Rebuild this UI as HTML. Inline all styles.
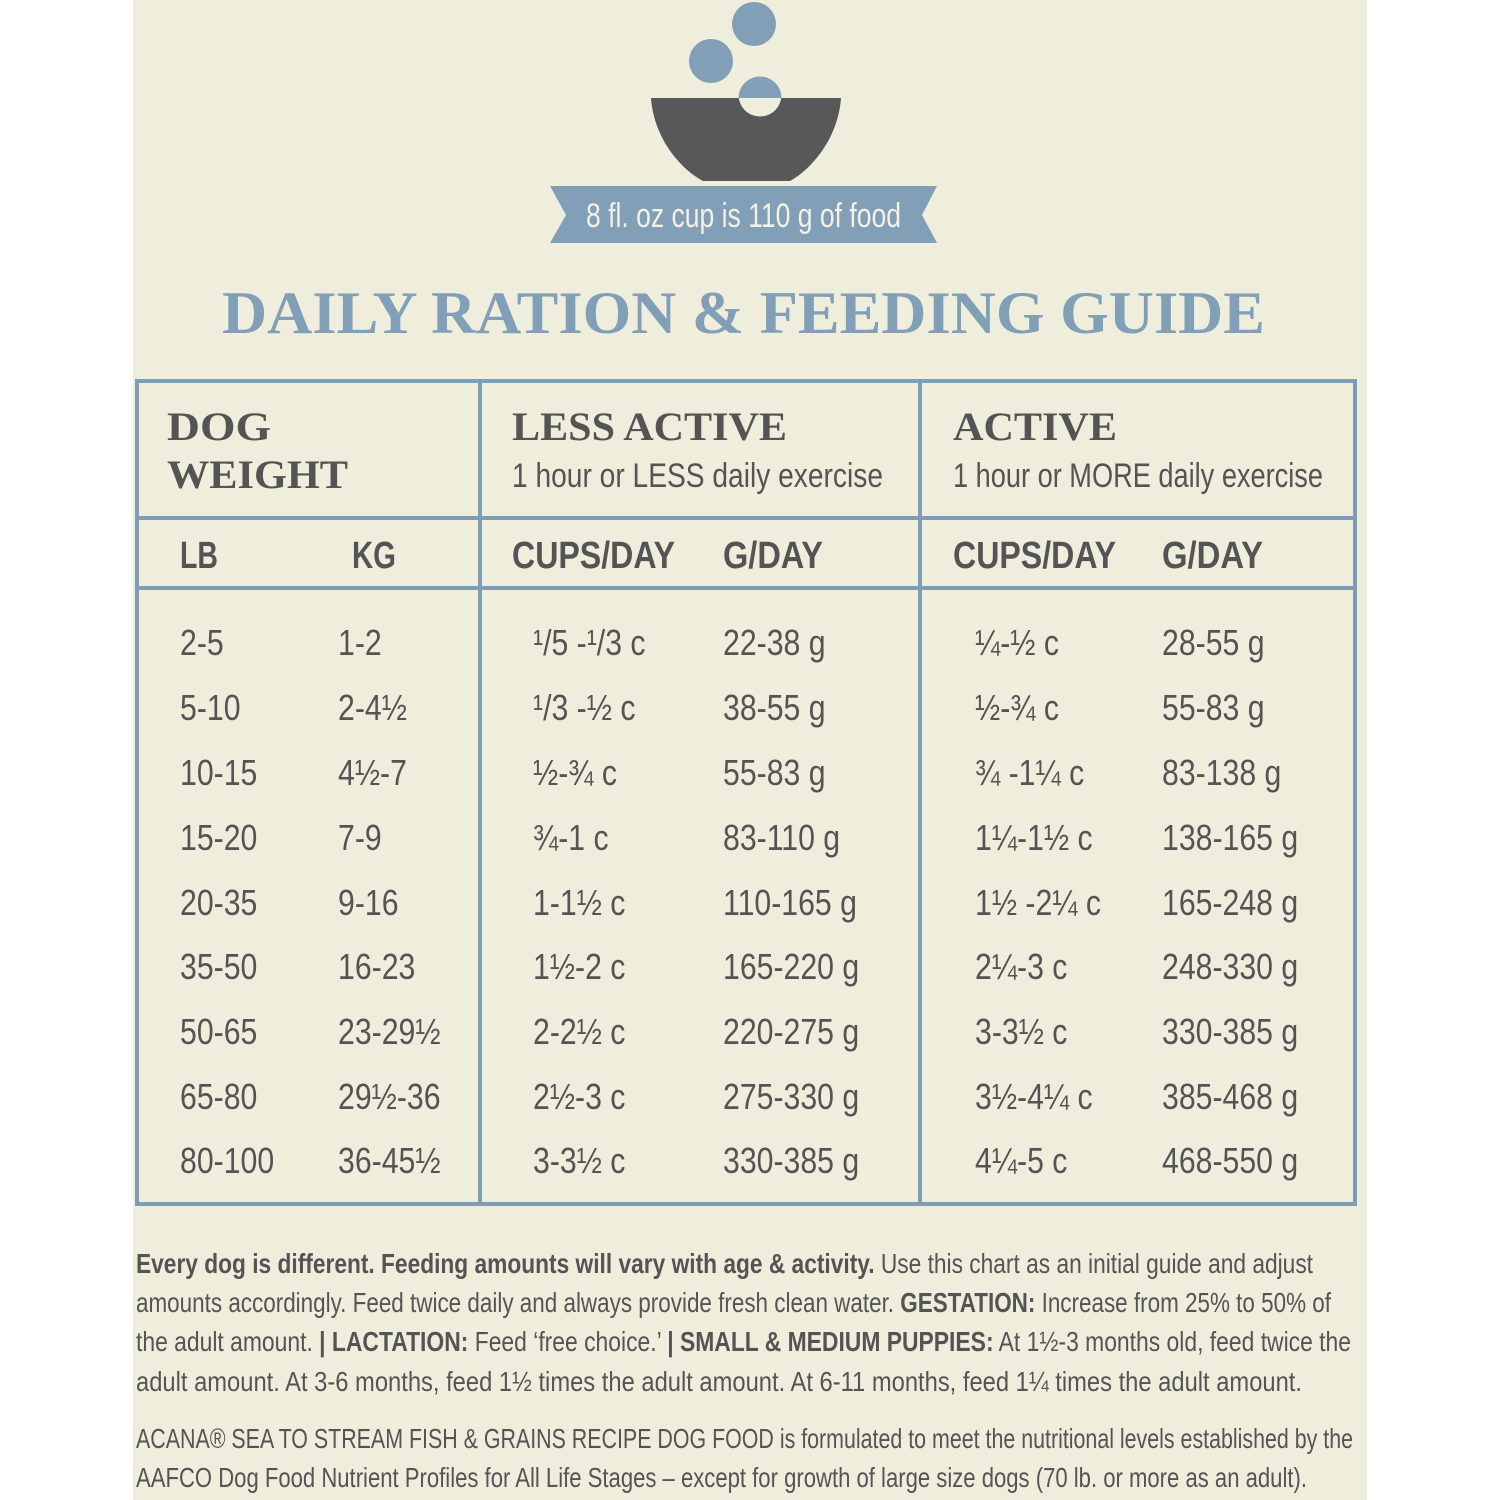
<!DOCTYPE html>
<html><head><style>
html,body{margin:0;padding:0;background:#fff;}
svg{display:block;}
text{font-family:"Liberation Sans",sans-serif;fill:#545454;}
.c{font-size:36px;}
.h{font-size:38px;font-weight:bold;}
.s{font-family:"Liberation Serif",serif;font-weight:bold;}
.f{font-size:28px;}
</style></head><body>
<svg width="1500" height="1500" viewBox="0 0 1500 1500" xmlns="http://www.w3.org/2000/svg">
<rect x="133" y="0" width="1234" height="1500" fill="#efeedd"/>
<!-- icon -->
<circle cx="754" cy="24" r="22" fill="#819fb7"/>
<circle cx="711" cy="61" r="22" fill="#819fb7"/>
<path d="M651 98 L841 98 C838 140 810 170 790 181 L703 181 C682 170 654 140 651 98 Z" fill="#58585a"/>
<circle cx="760" cy="95" r="21.5" fill="#efeedd"/>
<path d="M738.5 98 A21.5 21.5 0 0 1 781.5 98 Z" fill="#819fb7"/>
<!-- ribbon -->
<polygon points="550,186 937,186 922,215 937,243 550,243 566,215" fill="#819fb7"/>
<text x="586" y="227" font-size="34" textLength="315" lengthAdjust="spacingAndGlyphs" style="fill:#f2f1e4">8 fl. oz cup is 110 g of food</text>
<!-- title -->
<text class="s" x="222" y="333" font-size="60" textLength="1043" lengthAdjust="spacingAndGlyphs" style="fill:#819fb7">DAILY RATION &amp; FEEDING GUIDE</text>
<!-- table -->
<g stroke="#7f9db5" stroke-width="4" fill="none">
<rect x="137" y="381" width="1218" height="823"/>
<line x1="480" y1="381" x2="480" y2="1204"/>
<line x1="920" y1="381" x2="920" y2="1204"/>
<line x1="137" y1="518" x2="1355" y2="518"/>
<line x1="137" y1="588" x2="1355" y2="588"/>
</g>
<text class="s" x="167" y="440" font-size="40" textLength="104" lengthAdjust="spacingAndGlyphs">DOG</text>
<text class="s" x="167" y="488" font-size="40" textLength="181" lengthAdjust="spacingAndGlyphs">WEIGHT</text>
<text class="s" x="512" y="440" font-size="40" textLength="275" lengthAdjust="spacingAndGlyphs">LESS ACTIVE</text>
<text class="s" x="953" y="440" font-size="40" textLength="164" lengthAdjust="spacingAndGlyphs">ACTIVE</text>
<text x="512" y="487" font-size="34" textLength="371" lengthAdjust="spacingAndGlyphs">1 hour or LESS daily exercise</text>
<text x="953" y="487" font-size="34" textLength="370" lengthAdjust="spacingAndGlyphs">1 hour or MORE daily exercise</text>
<g class="h">
<text class="h" x="180" y="568" textLength="38" lengthAdjust="spacingAndGlyphs">LB</text>
<text class="h" x="352" y="568" textLength="44" lengthAdjust="spacingAndGlyphs">KG</text>
<text class="h" x="512" y="568" textLength="163" lengthAdjust="spacingAndGlyphs">CUPS/DAY</text>
<text class="h" x="723" y="568" textLength="100" lengthAdjust="spacingAndGlyphs">G/DAY</text>
<text class="h" x="953" y="568" textLength="163" lengthAdjust="spacingAndGlyphs">CUPS/DAY</text>
<text class="h" x="1162" y="568" textLength="101" lengthAdjust="spacingAndGlyphs">G/DAY</text>
</g>
<g class="c">
<text class="c" transform="translate(180,655) scale(0.84,1)">2-5</text><text class="c" transform="translate(338,655) scale(0.84,1)">1-2</text><text class="c" transform="translate(533,655) scale(0.84,1)">¹/5 -¹/3 c</text><text class="c" transform="translate(723,655) scale(0.84,1)">22-38 g</text><text class="c" transform="translate(975,655) scale(0.84,1)">¼-½ c</text><text class="c" transform="translate(1162,655) scale(0.84,1)">28-55 g</text>
<text class="c" transform="translate(180,720) scale(0.84,1)">5-10</text><text class="c" transform="translate(338,720) scale(0.84,1)">2-4½</text><text class="c" transform="translate(533,720) scale(0.84,1)">¹/3 -½ c</text><text class="c" transform="translate(723,720) scale(0.84,1)">38-55 g</text><text class="c" transform="translate(975,720) scale(0.84,1)">½-¾ c</text><text class="c" transform="translate(1162,720) scale(0.84,1)">55-83 g</text>
<text class="c" transform="translate(180,785) scale(0.84,1)">10-15</text><text class="c" transform="translate(338,785) scale(0.84,1)">4½-7</text><text class="c" transform="translate(533,785) scale(0.84,1)">½-¾ c</text><text class="c" transform="translate(723,785) scale(0.84,1)">55-83 g</text><text class="c" transform="translate(975,785) scale(0.84,1)">¾ -1¼ c</text><text class="c" transform="translate(1162,785) scale(0.84,1)">83-138 g</text>
<text class="c" transform="translate(180,850) scale(0.84,1)">15-20</text><text class="c" transform="translate(338,850) scale(0.84,1)">7-9</text><text class="c" transform="translate(533,850) scale(0.84,1)">¾-1 c</text><text class="c" transform="translate(723,850) scale(0.84,1)">83-110 g</text><text class="c" transform="translate(975,850) scale(0.84,1)">1¼-1½ c</text><text class="c" transform="translate(1162,850) scale(0.84,1)">138-165 g</text>
<text class="c" transform="translate(180,915) scale(0.84,1)">20-35</text><text class="c" transform="translate(338,915) scale(0.84,1)">9-16</text><text class="c" transform="translate(533,915) scale(0.84,1)">1-1½ c</text><text class="c" transform="translate(723,915) scale(0.84,1)">110-165 g</text><text class="c" transform="translate(975,915) scale(0.84,1)">1½ -2¼ c</text><text class="c" transform="translate(1162,915) scale(0.84,1)">165-248 g</text>
<text class="c" transform="translate(180,979) scale(0.84,1)">35-50</text><text class="c" transform="translate(338,979) scale(0.84,1)">16-23</text><text class="c" transform="translate(533,979) scale(0.84,1)">1½-2 c</text><text class="c" transform="translate(723,979) scale(0.84,1)">165-220 g</text><text class="c" transform="translate(975,979) scale(0.84,1)">2¼-3 c</text><text class="c" transform="translate(1162,979) scale(0.84,1)">248-330 g</text>
<text class="c" transform="translate(180,1044) scale(0.84,1)">50-65</text><text class="c" transform="translate(338,1044) scale(0.84,1)">23-29½</text><text class="c" transform="translate(533,1044) scale(0.84,1)">2-2½ c</text><text class="c" transform="translate(723,1044) scale(0.84,1)">220-275 g</text><text class="c" transform="translate(975,1044) scale(0.84,1)">3-3½ c</text><text class="c" transform="translate(1162,1044) scale(0.84,1)">330-385 g</text>
<text class="c" transform="translate(180,1109) scale(0.84,1)">65-80</text><text class="c" transform="translate(338,1109) scale(0.84,1)">29½-36</text><text class="c" transform="translate(533,1109) scale(0.84,1)">2½-3 c</text><text class="c" transform="translate(723,1109) scale(0.84,1)">275-330 g</text><text class="c" transform="translate(975,1109) scale(0.84,1)">3½-4¼ c</text><text class="c" transform="translate(1162,1109) scale(0.84,1)">385-468 g</text>
<text class="c" transform="translate(180,1173) scale(0.84,1)">80-100</text><text class="c" transform="translate(338,1173) scale(0.84,1)">36-45½</text><text class="c" transform="translate(533,1173) scale(0.84,1)">3-3½ c</text><text class="c" transform="translate(723,1173) scale(0.84,1)">330-385 g</text><text class="c" transform="translate(975,1173) scale(0.84,1)">4¼-5 c</text><text class="c" transform="translate(1162,1173) scale(0.84,1)">468-550 g</text>
</g>
<!-- footer -->
<text class="f" x="136" y="1273" textLength="1177" lengthAdjust="spacingAndGlyphs"><tspan font-weight="bold">Every dog is different. Feeding amounts will vary with age &amp; activity.</tspan> Use this chart as an initial guide and adjust</text>
<text class="f" x="136" y="1312" textLength="1195" lengthAdjust="spacingAndGlyphs">amounts accordingly. Feed twice daily and always provide fresh clean water. <tspan font-weight="bold">GESTATION:</tspan> Increase from 25% to 50% of</text>
<text class="f" x="136" y="1351" textLength="1215" lengthAdjust="spacingAndGlyphs">the adult amount. <tspan font-weight="bold">| LACTATION:</tspan> Feed ‘free choice.’ <tspan font-weight="bold">| SMALL &amp; MEDIUM PUPPIES:</tspan> At 1½-3 months old, feed twice the</text>
<text class="f" x="136" y="1391" textLength="1166" lengthAdjust="spacingAndGlyphs">adult amount. At 3-6 months, feed 1½ times the adult amount. At 6-11 months, feed 1¼ times the adult amount.</text>
<text class="f" x="136" y="1448" textLength="1217" lengthAdjust="spacingAndGlyphs">ACANA® SEA TO STREAM FISH &amp; GRAINS RECIPE DOG FOOD is formulated to meet the nutritional levels established by the</text>
<text class="f" x="136" y="1487" textLength="1171" lengthAdjust="spacingAndGlyphs">AAFCO Dog Food Nutrient Profiles for All Life Stages – except for growth of large size dogs (70 lb. or more as an adult).</text>
</svg>
</body></html>
